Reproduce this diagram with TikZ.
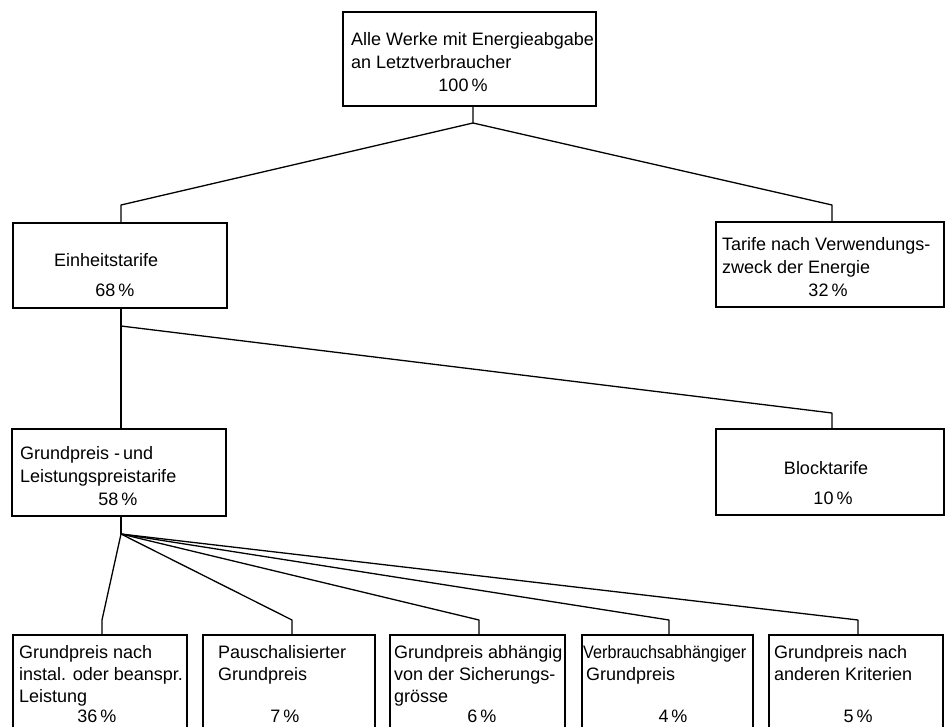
\documentclass[tikz,border=0pt]{standalone}
\usepackage{fontspec}
\setmainfont{Liberation Sans}
\usepackage{graphicx}
\usetikzlibrary{positioning}

\tikzset{
    tbox/.style={rectangle, draw, line width=1.3pt, inner sep=0pt, outer sep=0pt, anchor=north west},
    txt/.style={anchor=north west, inner sep=0pt, align=left, font=\fontsize{18}{23}\selectfont},
    pct/.style={anchor=base, inner sep=0pt, font=\fontsize{18}{23}\selectfont},
    conn/.style={line width=1.3pt, line join=round}
}

\begin{document}
\begin{tikzpicture}[x=1pt,y=-1pt]
    \useasboundingbox (0,0) rectangle (947,727);
    \clip (0,0) rectangle (947,727);

    \node[tbox, minimum width=253pt, minimum height=94pt] (top) at (343,12) {};
    \node[txt] (top-t) at (351,32) {Alle Werke mit Energieabgabe\\an Letztverbraucher};
    \node[pct] (top-p) at (463,92) {100\,\%};

    \node[tbox, minimum width=214pt, minimum height=85pt] (einh) at (13,223) {};
    \node[txt] (einh-t) at (54,253) {Einheitstarife};
    \node[pct] (einh-p) at (115,296) {68\,\%};

    \node[tbox, minimum width=228pt, minimum height=85pt] (verw) at (716,222) {};
    \node[txt] (verw-t) at (722,237) {Tarife nach Verwendungs-\\zweck der Energie};
    \node[pct] (verw-p) at (828,296) {32\,\%};

    \node[tbox, minimum width=214pt, minimum height=87pt] (grund) at (12,429) {};
    \node[txt] (grund-t) at (20,446) {Grundpreis -\,und\\Leistungspreistarife};
    \node[pct] (grund-p) at (118,505) {58\,\%};

    \node[tbox, minimum width=228pt, minimum height=86pt] (block) at (716,429) {};
    \node[pct] (block-t) at (826,474) {Blocktarife};
    \node[pct] (block-p) at (833,504) {10\,\%};

    \node[tbox, minimum width=174pt, minimum height=120pt] (b1) at (13,635) {};
    \node[txt, font=\fontsize{18}{22}\selectfont] (b1-t) at (19,645) {Grundpreis nach\\instal. oder beanspr.\\Leistung};
    \node[pct] (b1-p) at (97,722) {36\,\%};

    \node[tbox, minimum width=172pt, minimum height=120pt] (b2) at (203,635) {};
    \node[txt, font=\fontsize{18}{22}\selectfont] (b2-t) at (218,645) {Pauschalisierter\\Grundpreis};
    \node[pct] (b2-p) at (285,722) {7\,\%};

    \node[tbox, minimum width=175pt, minimum height=120pt] (b3) at (390,635) {};
    \node[txt, font=\fontsize{18}{22}\selectfont] (b3-t) at (394,645) {Grundpreis abhängig\\von der Sicherungs-\\grösse};
    \node[pct] (b3-p) at (482,722) {6\,\%};

    \node[tbox, minimum width=171pt, minimum height=120pt] (b4) at (582,635) {};
    \node[txt, font=\fontsize{18}{22}\selectfont] (b4-t) at (583,645) {\scalebox{0.9}[1]{Verbrauchsabhängiger}\\\,Grundpreis};
    \node[pct] (b4-p) at (673,722) {4\,\%};

    \node[tbox, minimum width=174pt, minimum height=120pt] (b5) at (769,635) {};
    \node[txt, font=\fontsize{18}{22}\selectfont] (b5-t) at (774,645) {Grundpreis nach\\anderen Kriterien};
    \node[pct] (b5-p) at (858,722) {5\,\%};

    \coordinate (k0) at (473,123);
    \coordinate (k1) at (121,205);
    \coordinate (k2) at (832,205);
    \coordinate (k3) at (121,326);
    \coordinate (k4) at (832,413);
    \coordinate (fan) at (121,534);

    \draw[conn] (top.south -| k0) -- (k0) -- (k1) -- (einh.north -| k1);
    \draw[conn] (k0) -- (k2) -- (verw.north -| k2);
    \draw[conn] (einh.south -| k3) -- (grund.north -| k3);
    \draw[conn] (k3) -- (k4) -- (block.north -| k4);
    \draw[conn] (grund.south -| fan) -- (fan);
    \foreach \b/\kx in {b1/102, b2/292, b3/479, b4/669, b5/858} {
        \coordinate (k-\b) at (\kx,620);
        \draw[conn] (fan) -- (k-\b) -- (k-\b |- \b.north);
    }
\end{tikzpicture}
\end{document}
